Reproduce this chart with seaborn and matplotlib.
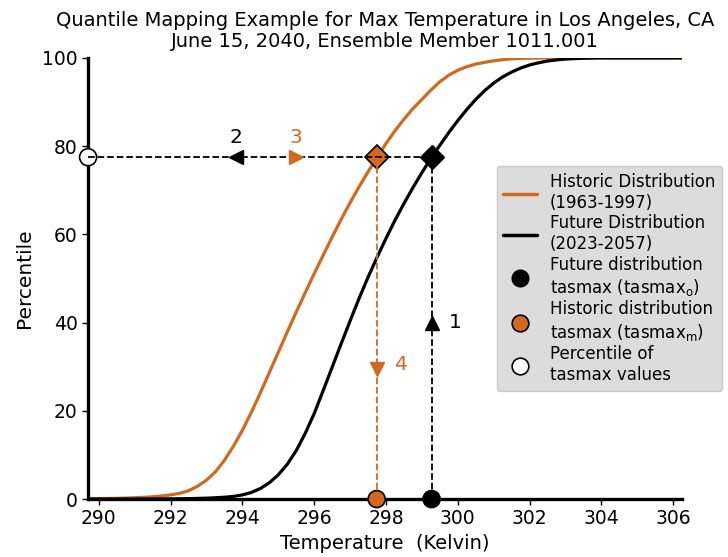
import matplotlib
matplotlib.use("Agg")
import matplotlib.pyplot as plt
from matplotlib.lines import Line2D
import pandas as pd
import seaborn as sns

# Temperature grid (K) and cumulative percentiles of each distribution
temperature = [289.7,
               290.0, 290.25, 290.5, 290.75, 291.0, 291.25, 291.5, 291.75, 292.0,
               292.25, 292.5, 292.75, 293.0, 293.25, 293.5, 293.75, 294.0,
               294.25, 294.5, 294.75, 295.0, 295.25, 295.5, 295.75, 296.0,
               296.25, 296.5, 296.75, 297.0, 297.25, 297.5, 297.75, 298.0,
               298.25, 298.5, 298.75, 299.0, 299.25, 299.5, 299.75, 300.0,
               300.25, 300.5, 300.75, 301.0, 301.25, 301.5, 301.75, 302.0,
               302.25, 302.5, 302.75, 303.0, 303.25, 303.5, 303.75, 304.0,
               304.5, 305.0, 305.5, 306.0, 306.25]
historic_pct = [0.08,
                0.1, 0.13, 0.17, 0.22, 0.3, 0.4, 0.52, 0.7, 0.95,
                1.3, 1.9, 2.9, 4.3, 6.2, 8.8, 12.0, 15.6,
                19.7, 24.1, 28.7, 33.3, 37.9, 42.4, 46.8, 51.1,
                55.3, 59.4, 63.4, 67.2, 70.8, 74.2, 77.4, 80.6,
                83.5, 86.1, 88.5, 90.6, 92.7, 94.6, 96.1, 97.2,
                98.0, 98.6, 99.0, 99.35, 99.6, 99.8, 99.9, 99.95,
                99.98, 100.0, 100.0, 100.0, 100.0, 100.0, 100.0, 100.0,
                100.0, 100.0, 100.0, 100.0, 100.0]
future_pct = [0.0,
              0.0, 0.0, 0.0, 0.01, 0.01, 0.02, 0.03, 0.04, 0.05,
              0.07, 0.1, 0.15, 0.2, 0.3, 0.42, 0.6, 0.95,
              1.5, 2.4, 3.7, 5.5, 7.9, 11.0, 14.9, 19.4,
              24.6, 29.9, 35.2, 40.4, 45.5, 50.3, 54.8, 59.1,
              63.2, 67.0, 70.6, 74.0, 77.2, 80.2, 83.1, 85.8,
              88.3, 90.6, 92.6, 94.3, 95.7, 96.8, 97.7, 98.4,
              98.9, 99.3, 99.55, 99.75, 99.85, 99.93, 99.97, 100.0,
              100.0, 100.0, 100.0, 100.0, 100.0]

# Quantile mapping of one day's value
tasmax_future = 299.27      # tasmax_o on the future distribution
tasmax_historic = 297.74    # tasmax_m on the historic distribution
quantile = 77.5             # shared percentile

# Step arrows and their numbers
step_labels = ["1", "2", "3", "4"]
step_x = [tasmax_future, 293.83, 295.5, tasmax_historic]
step_y = [40.0, quantile, quantile, 29.5]

ORANGE = "#d2691e"

sns.set_theme(style="ticks")
plt.rcParams["font.family"] = ["DejaVu Sans"]
plt.rcParams["mathtext.fontset"] = "dejavusans"
for key in ("text.color", "axes.labelcolor", "xtick.color", "ytick.color",
            "axes.edgecolor"):
    plt.rcParams[key] = "black"

fig = plt.figure(figsize=(7.28, 5.57), dpi=100)
ax = fig.add_axes([0.121, 0.104, 0.816, 0.792])

xmin, xmax = 289.7, 306.25

curves = pd.DataFrame({
    "Temperature": temperature * 2,
    "Percentile": historic_pct + future_pct,
    "Distribution": ["Historic"] * len(temperature) + ["Future"] * len(temperature),
})
sns.lineplot(data=curves, x="Temperature", y="Percentile", hue="Distribution",
             palette={"Historic": ORANGE, "Future": "black"}, linewidth=2.3,
             legend=False, ax=ax, zorder=2)

# Dashed guide lines
ax.plot([xmin, tasmax_future], [quantile, quantile], ls="--", color="black",
        lw=1.3, zorder=4, clip_on=False)
ax.plot([tasmax_future, tasmax_future], [0, quantile], ls="--", color="black",
        lw=1.3, zorder=4)
ax.plot([tasmax_historic, tasmax_historic], [0, quantile], ls="--", color=ORANGE,
        lw=1.3, zorder=4)

# Values on the axis and on the curves
points = pd.DataFrame({
    "x": [tasmax_future, tasmax_historic, xmin],
    "y": [0, 0, quantile],
    "kind": ["future", "historic", "percentile"],
})
sns.scatterplot(data=points, x="x", y="y", hue="kind",
                palette={"future": "black", "historic": ORANGE, "percentile": "white"},
                s=150, edgecolor="black", linewidth=1.2, legend=False, ax=ax,
                zorder=3, clip_on=False)
ax.plot([tasmax_future], [quantile], marker="D", ms=12, color="black", zorder=3)
ax.plot([tasmax_historic], [quantile], marker="D", ms=12, color=ORANGE,
        mec="black", mew=1.2, zorder=3)

# Step arrows
ax.plot(step_x[0], step_y[0], marker="^", ms=10, color="black", zorder=5)
ax.plot(step_x[1], step_y[1], marker="<", ms=10, color="black", zorder=5)
ax.plot(step_x[2], step_y[2], marker=">", ms=10, color=ORANGE, zorder=5)
ax.plot(step_x[3], step_y[3], marker="v", ms=10, color=ORANGE, zorder=5)
ax.text(step_x[0] + 0.65, step_y[0], step_labels[0], fontsize=14.5,
        ha="center", va="center", color="black")
ax.text(step_x[1], step_y[1] + 4.5, step_labels[1], fontsize=14.5,
        ha="center", va="center", color="black")
ax.text(step_x[2], step_y[2] + 4.5, step_labels[2], fontsize=14.5,
        ha="center", va="center", color=ORANGE)
ax.text(step_x[3] + 0.7, step_y[3] + 0.9, step_labels[3], fontsize=14.5,
        ha="center", va="center", color=ORANGE)

ax.set_xlim(xmin, xmax)
ax.set_ylim(0, 100)
ax.set_xticks(range(290, 307, 2))
ax.set_yticks(range(0, 101, 20))
ax.tick_params(labelsize=13.5, length=4, width=1, color="black")
ax.set_xlabel("Temperature  (Kelvin)", fontsize=14)
ax.set_ylabel("Percentile", fontsize=14.5, labelpad=6)
ax.set_title("Quantile Mapping Example for Max Temperature in Los Angeles, CA\n"
             "June 15, 2040, Ensemble Member 1011.001", fontsize=14,
             linespacing=1.1, pad=8)
sns.despine(ax=ax)
for side in ("left", "bottom"):
    ax.spines[side].set_linewidth(2.4)
    ax.spines[side].set_color("black")

handles = [
    Line2D([0], [0], color=ORANGE, lw=2.5),
    Line2D([0], [0], color="black", lw=2.5),
    Line2D([0], [0], marker="o", ls="", ms=12, color="black"),
    Line2D([0], [0], marker="o", ls="", ms=12, mfc=ORANGE, mec="black", mew=1.2),
    Line2D([0], [0], marker="o", ls="", ms=12, mfc="white", mec="black", mew=1.2),
]
labels = [
    "Historic Distribution\n(1963-1997)",
    "Future Distribution\n(2023-2057)",
    "Future distribution\ntasmax (tasmax$_\\mathrm{o}$)",
    "Historic distribution\ntasmax (tasmax$_\\mathrm{m}$)",
    "Percentile of\ntasmax values",
]
leg = ax.legend(handles, labels, loc="center right", bbox_to_anchor=(1.067, 0.5),
                borderaxespad=0, fontsize=12, labelspacing=0.15, frameon=True,
                facecolor="#dcdcdc", edgecolor="#c8c8c8", framealpha=1,
                fancybox=True)

fig.savefig("out.png", dpi=100)
